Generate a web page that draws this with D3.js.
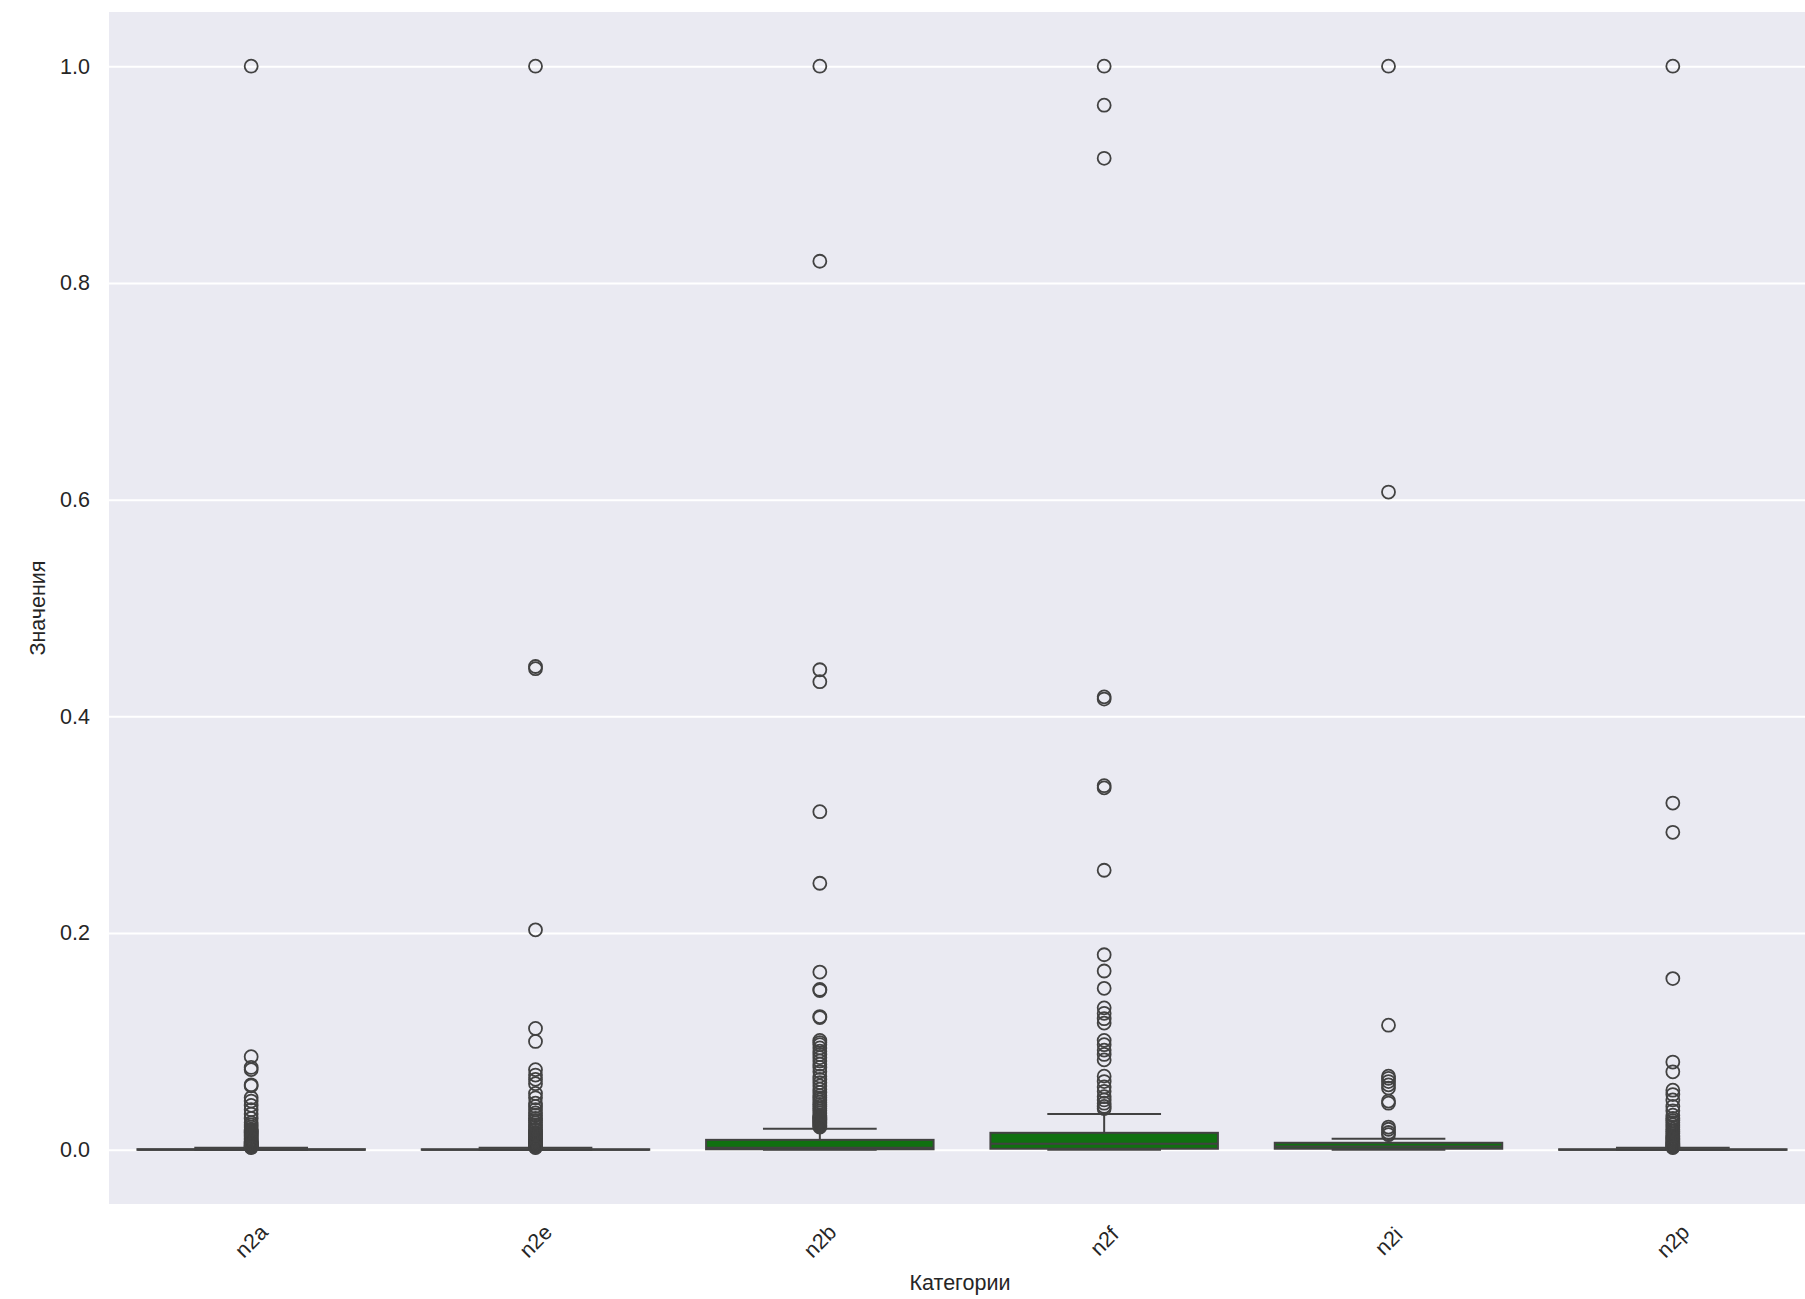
<!DOCTYPE html>
<html>
<head>
	<meta charset="utf-8">
	<title>Boxplot</title>
	<script src="https://cdn.jsdelivr.net/npm/d3@7"></script>
	<style>
		body { margin: 0; background: #fff; overflow: hidden; }
		text { font-family: "Liberation Sans", Arial, sans-serif; fill: #262626; }
		.domain { display: none; }
	</style>
</head>
<body>
	<svg width="1805" height="1299"></svg>
	<script>
		// категории и статистики ящиков
		var categories = ["n2a", "n2e", "n2b", "n2f", "n2i", "n2p"];
		var q1 = [0, 0, 0.0005, 0.001, 0.001, 0];
		var medians = [0, 0, 0.002, 0.0055, 0.003, 0];
		var q3 = [0.0006, 0.0005, 0.0092, 0.0157, 0.0065, 0.0005];
		var whiskerLow = [0, 0, 0, 0, 0, 0];
		var whiskerHigh = [0.0018, 0.0018, 0.0194, 0.033, 0.0102, 0.0018];

		// выбросы
		var outliersA = [1.0, 0.086, 0.076, 0.074, 0.060, 0.059, 0.048, 0.045, 0.041, 0.037, 0.033, 0.029,
			0.025, 0.023, 0.021, 0.019, 0.018, 0.017, 0.016, 0.015, 0.014, 0.013, 0.012, 0.011, 0.010,
			0.009, 0.008, 0.0075, 0.007, 0.0065, 0.006, 0.0055, 0.005, 0.0045, 0.004, 0.0035, 0.003,
			0.0027, 0.0024, 0.0021];
		var outliersE = [1.0, 0.446, 0.444, 0.203, 0.112, 0.100, 0.074, 0.069, 0.065, 0.061, 0.052, 0.048,
			0.043, 0.040, 0.037, 0.034, 0.032, 0.029, 0.027, 0.025, 0.023, 0.021, 0.019, 0.018, 0.016,
			0.015, 0.014, 0.013, 0.012, 0.011, 0.010, 0.009, 0.008, 0.007, 0.006, 0.0055, 0.005, 0.0045,
			0.004, 0.0035, 0.003, 0.0025, 0.0021];
		var outliersB = [1.0, 0.82, 0.443, 0.432, 0.312, 0.246, 0.164, 0.148, 0.147, 0.123, 0.122, 0.101,
			0.099, 0.097, 0.094, 0.091, 0.088, 0.085, 0.082, 0.079, 0.076, 0.072, 0.068, 0.065, 0.062,
			0.059, 0.056, 0.053, 0.050, 0.048, 0.046, 0.044, 0.042, 0.040, 0.038, 0.036, 0.034, 0.032,
			0.031, 0.030, 0.029, 0.028, 0.027, 0.026, 0.025, 0.024, 0.023, 0.022, 0.021];
		var outliersF = [1.0, 0.964, 0.915, 0.418, 0.416, 0.336, 0.334, 0.258, 0.180, 0.165, 0.149, 0.131,
			0.126, 0.121, 0.117, 0.101, 0.097, 0.092, 0.088, 0.083, 0.068, 0.063, 0.058, 0.054, 0.049,
			0.046, 0.043, 0.040, 0.038];
		var outliersI = [1.0, 0.607, 0.115, 0.068, 0.066, 0.063, 0.060, 0.057, 0.045, 0.043, 0.021, 0.019,
			0.016, 0.014];
		var outliersP = [1.0, 0.320, 0.293, 0.158, 0.081, 0.072, 0.055, 0.051, 0.046, 0.040, 0.036, 0.032,
			0.029, 0.027, 0.025, 0.023, 0.021, 0.019, 0.017, 0.015, 0.013, 0.012, 0.011, 0.010, 0.009,
			0.008, 0.007, 0.006, 0.005, 0.004, 0.003, 0.0025, 0.0021];
		var outliers = [outliersA, outliersE, outliersB, outliersF, outliersI, outliersP];

		var yTicks = [0, 0.2, 0.4, 0.6, 0.8, 1.0];

		// правый край области графика уходит за край картинки
		var plotLeft = 109, plotRight = 1815, plotTop = 12, plotBottom = 1204;
		var boxColor = "#107010", lineColor = "#424242";

		var svg = d3.select("svg");

		var x = d3.scaleBand()
			.domain(categories)
			.range([plotLeft, plotRight])
			.padding(0);

		var y = d3.scaleLinear()
			.domain([-0.05, 1.05])
			.range([plotBottom, plotTop]);

		// фон
		svg.append("rect")
			.attr("x", plotLeft).attr("y", plotTop)
			.attr("width", plotRight - plotLeft).attr("height", plotBottom - plotTop)
			.attr("fill", "#eaeaf2");

		// сетка
		var grid = svg.append("g")
			.attr("transform", "translate(" + plotLeft + ",0)")
			.call(d3.axisLeft(y).tickValues(yTicks).tickSize(-(plotRight - plotLeft)).tickFormat(""));
		grid.selectAll("line").attr("stroke", "#fff").attr("stroke-width", 2);

		// ось Y
		var yAxis = svg.append("g")
			.attr("transform", "translate(" + plotLeft + ",0)")
			.call(d3.axisLeft(y).tickValues(yTicks).tickSize(0).tickPadding(19).tickFormat(d3.format(".1f")));
		yAxis.selectAll("text").style("font-size", "21.5px");

		// ось X
		var xAxis = svg.append("g")
			.attr("transform", "translate(0," + plotBottom + ")")
			.call(d3.axisBottom(x).tickSize(0).tickPadding(0));
		xAxis.selectAll("text")
			.style("font-size", "21.5px")
			.attr("text-anchor", "middle")
			.attr("dy", "0.35em")
			.attr("y", 37)
			.attr("transform", "rotate(-45, 0, 37)");

		// подписи осей
		svg.append("text")
			.attr("x", (plotLeft + 1805) / 2 + 3).attr("y", 1290)
			.attr("text-anchor", "middle")
			.style("font-size", "21.5px")
			.text("Категории");

		svg.append("text")
			.attr("transform", "translate(45," + (plotTop + plotBottom) / 2 + ") rotate(-90)")
			.attr("text-anchor", "middle")
			.style("font-size", "21.5px")
			.text("Значения");

		// ящики
		var bw = x.bandwidth() * 0.8;
		var boxes = svg.append("g");

		categories.forEach(function(c, i) {
			var cx = x(c) + x.bandwidth() / 2;
			var g = boxes.append("g");

			g.append("rect")
				.attr("x", cx - bw / 2)
				.attr("y", y(q3[i]))
				.attr("width", bw)
				.attr("height", Math.max(0, y(q1[i]) - y(q3[i])))
				.attr("fill", boxColor)
				.attr("stroke", lineColor)
				.attr("stroke-width", 2);

			// усы
			g.append("line")
				.attr("x1", cx).attr("x2", cx)
				.attr("y1", y(q3[i])).attr("y2", y(whiskerHigh[i]))
				.attr("stroke", lineColor).attr("stroke-width", 2);
			g.append("line")
				.attr("x1", cx).attr("x2", cx)
				.attr("y1", y(q1[i])).attr("y2", y(whiskerLow[i]))
				.attr("stroke", lineColor).attr("stroke-width", 2);

			[whiskerLow[i], whiskerHigh[i]].forEach(function(v) {
				g.append("line")
					.attr("x1", cx - bw / 4).attr("x2", cx + bw / 4)
					.attr("y1", y(v)).attr("y2", y(v))
					.attr("stroke", lineColor).attr("stroke-width", 2);
			});

			// медиана
			g.append("line")
				.attr("x1", cx - bw / 2).attr("x2", cx + bw / 2)
				.attr("y1", y(medians[i])).attr("y2", y(medians[i]))
				.attr("stroke", lineColor).attr("stroke-width", 2);

			// выбросы
			g.selectAll("circle")
				.data(outliers[i])
				.enter().append("circle")
				.attr("cx", cx)
				.attr("cy", function(d) { return y(d); })
				.attr("r", 6.5)
				.attr("fill", "none")
				.attr("stroke", lineColor)
				.attr("stroke-width", 1.8);
		});
	</script>
</body>
</html>
